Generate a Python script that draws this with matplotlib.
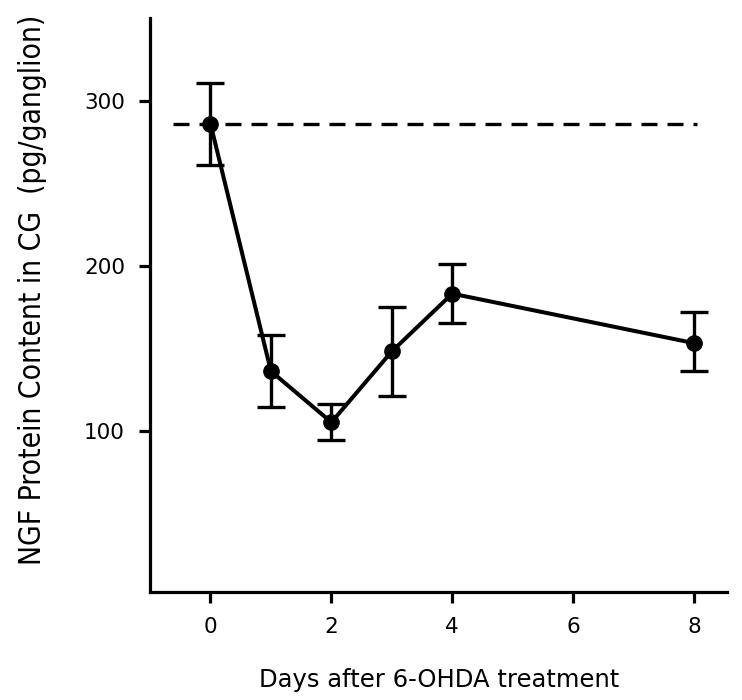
import matplotlib
matplotlib.use("Agg")
import matplotlib.pyplot as plt
import numpy as np

# Werte
days = [0, 1, 2, 3, 4, 8]
ngf = [286, 136, 105, 148, 183, 153]
err_hi = [311, 158, 116, 175, 201, 172]
err_lo = [261, 114, 94, 121, 165, 136]
control = 286

yerr = np.array([np.array(ngf) - np.array(err_lo), np.array(err_hi) - np.array(ngf)])

fig = plt.figure(figsize=(7.42, 7.0), dpi=100)
ax = fig.add_axes([0.2022, 0.154, 0.778, 0.82])

ax.plot([-0.62, 8.05], [control, control], "k", linestyle=(0, (4.8, 3)), linewidth=2.4)
ax.errorbar(days, ngf, yerr=yerr, fmt="-o", color="k", linewidth=2.9,
            markersize=11, elinewidth=2.4, capsize=10, capthick=2.4)

ax.set_xlim(-1, 8.55)
ax.set_ylim(2, 350)
ax.set_xticks([0, 2, 4, 6, 8])
ax.set_yticks([100, 200, 300])

for s in ["top", "right"]:
    ax.spines[s].set_visible(False)
for s in ["left", "bottom"]:
    ax.spines[s].set_linewidth(2.3)
ax.tick_params(axis="both", direction="out", length=8, width=2.3, labelsize=15.5, pad=10)

ax.set_xlabel("Days after 6-OHDA treatment", fontsize=17.5, labelpad=22)
ax.set_ylabel("NGF Protein Content in CG  (pg/ganglion)", fontsize=21.5,
              family="DejaVu Sans", fontstretch="condensed")
ax.yaxis.set_label_coords(-0.178, 0.527)

fig.savefig("out.png", dpi=100)
